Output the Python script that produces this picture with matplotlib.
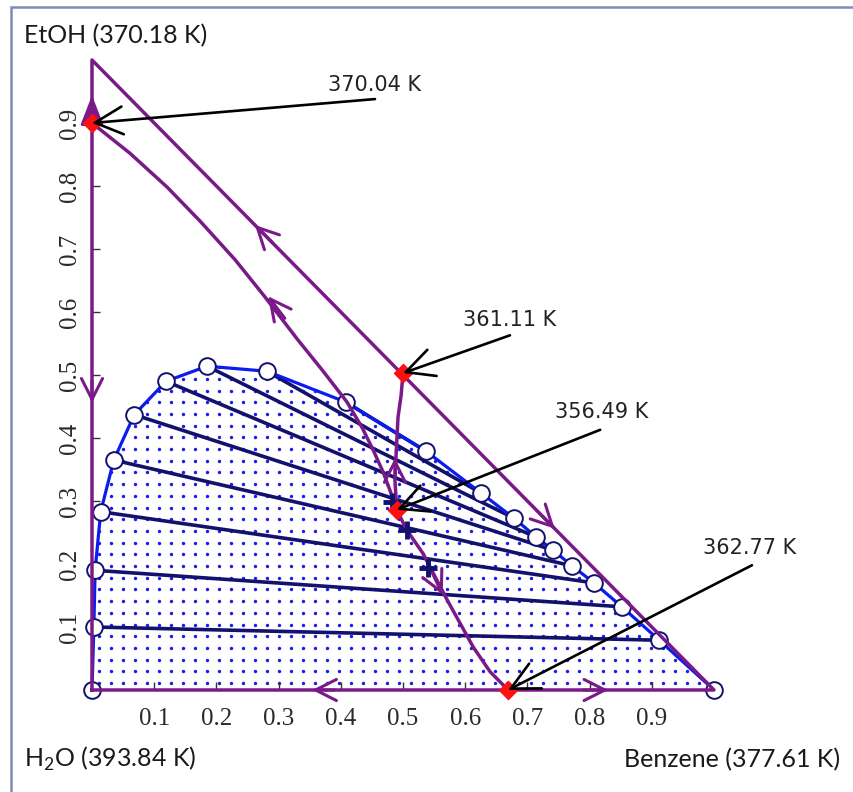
import numpy as np
import matplotlib
matplotlib.use("Agg")
import matplotlib.pyplot as plt
from matplotlib.patches import Polygon, Rectangle

plt.rcParams['mathtext.fontset'] = 'custom'
plt.rcParams['mathtext.rm'] = 'Lato'

# x = benzene mole fraction, y = ethanol mole fraction
binodal_x = [0.0, 0.003, 0.005, 0.014, 0.035, 0.068, 0.119, 0.185, 0.281, 0.408,
             0.537, 0.625, 0.678, 0.714, 0.741, 0.772, 0.807, 0.852, 0.912, 1.0]
binodal_y = [0.0, 0.100, 0.190, 0.283, 0.365, 0.437, 0.490, 0.514, 0.506, 0.457,
             0.379, 0.313, 0.273, 0.243, 0.222, 0.197, 0.170, 0.132, 0.079, 0.0]

# tie lines: aqueous end -> organic end
tie_aq_x = [0.003, 0.005, 0.014, 0.035, 0.068, 0.119, 0.185, 0.281, 0.408]
tie_aq_y = [0.100, 0.190, 0.283, 0.365, 0.437, 0.490, 0.514, 0.506, 0.457]
tie_org_x = [0.912, 0.852, 0.807, 0.772, 0.741, 0.714, 0.678, 0.625, 0.537]
tie_org_y = [0.079, 0.132, 0.170, 0.197, 0.222, 0.243, 0.273, 0.313, 0.379]

# distillation boundaries
bndA_x = [0.0, 0.061, 0.121, 0.174, 0.230, 0.278, 0.330, 0.370, 0.410, 0.434,
          0.452, 0.468, 0.479, 0.490]
bndA_y = [0.900, 0.852, 0.798, 0.744, 0.683, 0.624, 0.557, 0.508, 0.457, 0.417,
          0.381, 0.346, 0.317, 0.286]
bndB_x = [0.500, 0.497, 0.492, 0.489, 0.487, 0.490]
bndB_y = [0.503, 0.468, 0.433, 0.376, 0.333, 0.286]
bndC_x = [0.490, 0.506, 0.532, 0.571, 0.613, 0.640, 0.669]
bndC_y = [0.286, 0.254, 0.217, 0.143, 0.068, 0.029, 0.0]

# azeotropes
azeo_x = [0.0, 0.500, 0.490, 0.669]
azeo_y = [0.900, 0.503, 0.286, 0.0]
azeo_lab = ["370.04 K", "361.11 K", "356.49 K", "362.77 K"]
lab_x = [0.455, 0.672, 0.820, 1.058]
lab_y = [0.960, 0.587, 0.441, 0.225]
tail_x = [0.455, 0.672, 0.817, 1.061]
tail_y = [0.938, 0.563, 0.413, 0.198]

plus_x = [0.482, 0.506, 0.540]
plus_y = [0.298, 0.254, 0.194]

# direction arrows on the boundaries (tail -> tip)
arr_tail = [(0.0, 0.49), (0.29, 0.71), (0.715, 0.285), (0.39, 0.0), (0.79, 0.0),
            (0.31, 0.590), (0.545, 0.19), (0.487, 0.34)]
arr_tip = [(0.0, 0.456), (0.262, 0.738), (0.744, 0.256), (0.354, 0.0), (0.830, 0.0),
           (0.283, 0.625), (0.564, 0.151), (0.487, 0.368)]

ticks = [0.1, 0.2, 0.3, 0.4, 0.5, 0.6, 0.7, 0.8, 0.9]

purple = '#7a1a88'
navy = '#12126e'

fig = plt.figure(figsize=(8.54, 7.92), dpi=100)
ax = fig.add_axes([92/854, 102/792, 622/854, 630/792])
ax.set_xlim(0, 1)
ax.set_ylim(0, 1)

# dotted two-phase region
poly = Polygon(np.column_stack([binodal_x, binodal_y]), closed=True,
               transform=ax.transData, facecolor='none', edgecolor='none')
ax.add_patch(poly)
gx, gy = np.meshgrid(np.arange(0.012, 1.0, 12/622), np.arange(0.011, 0.53, 11.7/630))
dots = ax.scatter(gx.ravel(), gy.ravel(), s=6, color='#1c1ce0', linewidths=0, zorder=1)
dots.set_clip_path(poly)

for i in range(len(tie_aq_x)):
    ax.plot([tie_aq_x[i], tie_org_x[i]], [tie_aq_y[i], tie_org_y[i]],
            color=navy, lw=2.6, zorder=2)

ax.plot(binodal_x, binodal_y, color='#0a1cf0', lw=2.3, zorder=3, clip_on=False)
ax.plot(binodal_x, binodal_y, 'o', ms=12, mfc='white', mec=navy, mew=1.4,
        zorder=4, clip_on=False)

# triangle edges and boundaries
ax.plot([0, 0, 1, 0], [0, 1, 0, 0], color=purple, lw=2.5, zorder=5, clip_on=False)
for bx, by in [(bndA_x, bndA_y), (bndB_x, bndB_y), (bndC_x, bndC_y)]:
    ax.plot(bx, by, color=purple, lw=2.5, zorder=5)

for t, h in zip(arr_tail, arr_tip):
    ax.annotate('', xy=h, xytext=t, annotation_clip=False, zorder=6,
                arrowprops=dict(arrowstyle='->, head_length=0.75, head_width=0.38',
                                color=purple, lw=2.2, mutation_scale=20,
                                shrinkA=0, shrinkB=0))
ax.annotate('', xy=(0, 0.944), xytext=(0, 0.905), annotation_clip=False, zorder=6,
            arrowprops=dict(arrowstyle='-|>, head_length=0.9, head_width=0.35',
                            color=purple, lw=2.2, mutation_scale=20,
                            shrinkA=0, shrinkB=0))

ax.plot(plus_x, plus_y, '+', ms=13, mew=3.5, color=navy, zorder=6)
ax.plot(azeo_x, azeo_y, 'D', ms=10, color='#ff1010', mec='none', zorder=7, clip_on=False)

for i in range(len(azeo_lab)):
    ax.annotate('', xy=(azeo_x[i], azeo_y[i]), xytext=(tail_x[i], tail_y[i]),
                annotation_clip=False, zorder=8,
                arrowprops=dict(arrowstyle='->, head_length=1.0, head_width=0.5',
                                color='black', lw=1.9, mutation_scale=20,
                                shrinkA=0, shrinkB=0))
    ax.text(lab_x[i], lab_y[i], azeo_lab[i], ha='center', va='center',
            fontsize=15, color='#222222', family='DejaVu Sans', clip_on=False)

for s in ax.spines.values():
    s.set_visible(False)
ax.set_xticks(ticks)
ax.set_yticks(ticks)
ax.set_xticklabels([str(t) for t in ticks], family='Liberation Serif', fontsize=18,
                   color='#2a2a2a')
ax.set_yticklabels([str(t) for t in ticks], family='Liberation Serif', fontsize=18,
                   color='#2a2a2a', rotation=90, va='center')
ax.tick_params(direction='in', length=6, width=1, color='#333333')
ax.tick_params(axis='x', pad=13)
ax.tick_params(axis='y', pad=8)

fig.text(24/854, 1 - 43/792, "EtOH (370.18 K)", family='Lato', fontsize=18,
         va='baseline', color='#1a1a1a')
fig.text(24/854, 1 - 767/792, "H$_2$O (393.84 K)", family='Lato', fontsize=18,
         va='baseline', color='#1a1a1a')
fig.text(840/854, 1 - 767/792, "Benzene (377.61 K)", family='Lato', fontsize=18,
         va='baseline', ha='right', color='#1a1a1a')

fig.patches.append(Rectangle((11/854, -0.05), 1.0, 1.05 - 7/792, transform=fig.transFigure,
                             fill=False, edgecolor='#7d8cb4', lw=1.8))

fig.savefig('out.png', dpi=100)
